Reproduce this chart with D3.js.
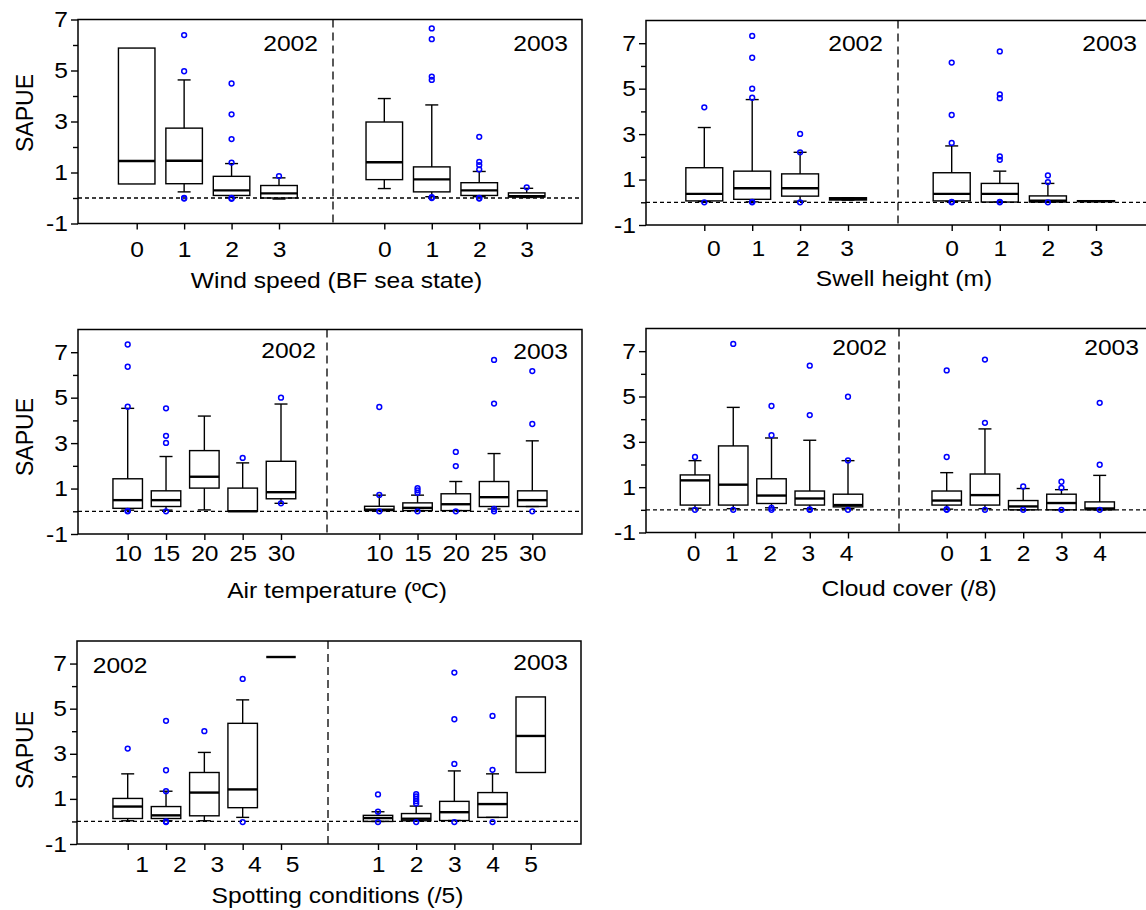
<!DOCTYPE html>
<html><head><meta charset="utf-8">
<script src="https://cdn.jsdelivr.net/npm/d3@7"></script>
<style>
body{margin:0;background:#fff;}
text{font-family:"Liberation Sans",Arial,sans-serif;fill:#000;}
</style></head>
<body><svg id="chart" width="1146" height="910"></svg>
<script>
// ---------- DATA: each box row = [lowerWhisker, q1, median, q3, upperWhisker] ----------
const WIND_CATS = ["0","1","2","3"];
const WIND_2002 = [[null,0.55,1.45,5.88,null],[0.24,0.56,1.46,2.74,4.63],[0.02,0.10,0.30,0.85,1.35],[-0.04,0.0,0.18,0.49,0.79]];
const WIND_2002_OUT = [[],[6.39,4.97,0,-0.02],[4.49,3.28,2.31,1.39,0,-0.03],[0.86]];
const WIND_2003 = [[0.37,0.72,1.40,2.98,3.90],[0.05,0.24,0.73,1.22,3.65],[0.05,0.10,0.30,0.60,1.04],[0.02,0.04,0.07,0.20,0.38]];
const WIND_2003_OUT = [[],[6.65,6.23,4.76,4.63,0,0.03],[2.40,1.42,1.29,1.12,0,-0.02],[0.42]];

const SWELL_CATS = ["0","1","2","3"];
const SWELL_2002 = [[0.03,0.06,0.37,1.52,3.29],[0.02,0.13,0.62,1.37,4.52],[0.05,0.27,0.62,1.25,2.20],[0.10,0.10,0.15,0.20,0.20]];
const SWELL_2002_OUT = [[4.18,0],[7.32,6.36,5.00,4.60,0,0.02],[3.01,2.20,0],[]];
const SWELL_2003 = [[0.03,0.06,0.37,1.30,2.48],[0.01,0.01,0.37,0.83,1.37],[0.01,0.01,0.07,0.28,0.83],[0.03,0.03,0.05,0.07,0.07]];
const SWELL_2003_OUT = [[6.15,3.84,2.61,0,0.02],[6.64,4.75,4.58,2.02,1.87,0,0.02],[1.18,0.89,0],[]];

const AIR_CATS = ["10","15","20","25","30"];
const AIR_2002 = [[0.05,0.13,0.49,1.43,4.53],[0.05,0.21,0.49,0.90,2.41],[0.06,1.02,1.52,2.67,4.19],[0,0,0,1.02,2.13],[0.35,0.55,0.84,2.20,4.72]];
const AIR_2002_OUT = [[7.34,6.36,4.60,0,0.02],[4.53,3.32,3.01,0],[],[2.35],[5.00,0.35]];
const AIR_2003 = [[0.03,0.03,0.07,0.22,0.71],[0.03,0.03,0.15,0.37,0.71],[0.03,0.03,0.31,0.77,1.31],[0.10,0.21,0.62,1.31,2.54],[0.21,0.21,0.49,0.90,3.10]];
const AIR_2003_OUT = [[4.59,0.72,0],[1.02,0.92,0.81,0],[2.61,1.99,0],[6.66,4.74,0.10,0],[6.17,3.84,0]];

const CLOUD_CATS = ["0","1","2","3","4"];
const CLOUD_2002 = [[0.07,0.21,1.30,1.54,2.17],[0.05,0.21,1.11,2.82,4.52],[0.09,0.28,0.63,1.37,3.17],[0.05,0.21,0.50,0.83,3.07],[0.05,0.13,0.21,0.69,2.17]];
const CLOUD_2002_OUT = [[2.33,0],[7.32,0],[4.58,3.29,0.09,0],[6.36,4.18,0,0.02],[4.99,2.18,0]];
const CLOUD_2003 = [[0.03,0.21,0.41,0.83,1.64],[0.05,0.21,0.65,1.58,3.57],[0,0,0.15,0.41,0.94],[0,0,0.30,0.69,0.89],[0,0,0.06,0.35,1.52]];
const CLOUD_2003_OUT = [[6.15,2.33,0.03,0],[6.63,3.84,0],[1.03,0],[1.24,0.97,0],[4.72,1.99,0]];

const SPOT_CATS = ["1","2","3","4","5"];
const SPOT_2002 = [[0.03,0.13,0.66,1.02,2.11],[0.03,0.13,0.27,0.66,1.34],[0.03,0.25,1.28,2.17,3.06],[0.18,0.61,1.42,4.35,5.39],[null,7.29,7.29,7.29,null]];
const SPOT_2002_OUT = [[3.23],[4.46,2.27,1.34,0,-0.03],[4.00],[6.32,-0.03],[]];
const SPOT_2003 = [[0,0,0.15,0.27,0.43],[0.03,0.03,0.12,0.35,0.68],[0.04,0.04,0.41,0.89,2.24],[0.18,0.18,0.77,1.28,2.11],[null,2.17,3.79,5.52,null]];
const SPOT_2003_OUT = [[1.20,0.43,-0.03],[1.21,1.11,1.00,0.90,0.80,-0.03],[6.60,4.53,2.55,-0.03],[4.68,2.29,-0.03],[]];

const YEARS = ["2002","2003"];
const Y_TITLE = "SAPUE";
const Y_TICKS = [-1,0,1,2,3,4,5,6,7];

// ---------- LAYOUT ----------
const FS = 22, SX = 1.12;
const panels = [
  {cats:WIND_CATS, data:[WIND_2002,WIND_2003], out:[WIND_2002_OUT,WIND_2003_OUT], title:"Wind speed (BF sea state)",
   left:78, right:582, div:333, top:19.5, bottom:223.5, ymax:7,
   ticks:[[136.7,279],[384.3,526.7]], labels:[[136.7,279],[384.3,526.7]], lab:25.5, tit:56.7, titX:336.5,
   yl:[{x:318,y:50.7,a:"end"},{x:568,y:50.7,a:"end"}], ytitleY:113},
  {cats:SWELL_CATS, data:[SWELL_2002,SWELL_2003], out:[SWELL_2002_OUT,SWELL_2003_OUT], title:"Swell height (m)",
   left:646, right:1148, div:898, top:20.5, bottom:225, ymax:8,
   ticks:[[704.3,848],[951.7,1096]], labels:[[713.3,846.7],[951.7,1096]], lab:23.7, tit:53.3, titX:904,
   yl:[{x:883,y:50.7,a:"end"},{x:1137,y:50.7,a:"end"}]},
  {cats:AIR_CATS, data:[AIR_2002,AIR_2003], out:[AIR_2002_OUT,AIR_2003_OUT], title:"Air temperature (ºC)",
   left:78, right:582, div:327, top:329.5, bottom:534, ymax:8,
   ticks:[[127.7,281],[379.3,532.3]], labels:[[127.7,281],[379.3,532.3]], lab:19.3, tit:56, titX:337,
   yl:[{x:316,y:358.3,a:"end"},{x:568,y:359.3,a:"end"}], ytitleY:437},
  {cats:CLOUD_CATS, data:[CLOUD_2002,CLOUD_2003], out:[CLOUD_2002_OUT,CLOUD_2003_OUT], title:"Cloud cover (/8)",
   left:646, right:1148, div:899, top:328.5, bottom:532.5, ymax:8,
   ticks:[[695,848],[946.7,1099.7]], labels:[[693,846],[946.7,1099.7]], lab:21, tit:56, titX:909,
   yl:[{x:887,y:355,a:"end"},{x:1139,y:355,a:"end"}]},
  {cats:SPOT_CATS, data:[SPOT_2002,SPOT_2003], out:[SPOT_2002_OUT,SPOT_2003_OUT], title:"Spotting conditions (/5)",
   left:77, right:581, div:328, top:641, bottom:844, ymax:8,
   ticks:[[127.7,281],[378,530.7]], labels:[[141.7,292],[378,530.7]], lab:20.7, tit:51, titX:337.5,
   yl:[{x:92.7,y:673,a:"start"},{x:568,y:670,a:"end"}], ytitleY:750}
];

const svg = d3.select("#chart");
const stretched = (sel, x, y, txt, anchor, base) => sel.append("text")
  .attr("transform", `translate(${x},${y}) scale(${SX},1)`)
  .attr("text-anchor", anchor).attr("dominant-baseline", base || "auto")
  .attr("font-size", FS).text(txt);

panels.forEach(p => {
  const g = svg.append("g");
  const y = d3.scaleLinear().domain([-1, p.ymax]).range([p.bottom, p.top]);

  // y axis ticks
  const yAxis = d3.axisLeft(y).tickValues(Y_TICKS).tickSize(7).tickPadding(3)
      .tickFormat(d => (Math.abs(d) % 2 === 1) ? String(d) : "");
  const ya = g.append("g").attr("transform", `translate(${p.left},0)`).call(yAxis);
  ya.select(".domain").remove();
  ya.selectAll(".tick line").attr("stroke","#000").attr("stroke-width",1.4)
    .attr("x2", d => (Math.abs(d)%2===1) ? -7 : -5);
  ya.selectAll(".tick text").attr("font-size",FS).attr("font-family","Liberation Sans, Arial, sans-serif")
    .attr("fill","#000").attr("x", -10/SX).attr("transform", `scale(${SX},1)`);

  // zero dashed line
  g.append("line").attr("x1", p.left).attr("x2", Math.min(p.right,1146)).attr("y1", y(0)).attr("y2", y(0))
    .attr("stroke","#000").attr("stroke-width",1.3).attr("stroke-dasharray","4,3");
  // divider
  g.append("line").attr("x1", p.div).attr("x2", p.div).attr("y1", p.top).attr("y2", p.bottom)
    .attr("stroke","#000").attr("stroke-width",1.3).attr("stroke-dasharray","8,5");

  [0,1].forEach(h => {
    const x = d3.scalePoint().domain(p.cats).range(p.ticks[h]);
    const xl = d3.scalePoint().domain(p.cats).range(p.labels[h]);
    const bw = x.step() * 0.77;
    const cap = 13;

    // tick marks
    const xa = g.append("g").attr("transform", `translate(0,${p.bottom})`)
      .call(d3.axisBottom(x).tickSize(6).tickFormat(""));
    xa.select(".domain").remove();
    xa.selectAll(".tick line").attr("stroke","#000").attr("stroke-width",1.4);
    // labels
    const xb = g.append("g").attr("transform", `translate(0,${p.bottom})`)
      .call(d3.axisBottom(xl).tickSize(0).tickPadding(0));
    xb.select(".domain").remove();
    xb.selectAll(".tick text").attr("font-size",FS).attr("font-family","Liberation Sans, Arial, sans-serif")
      .attr("fill","#000").attr("dy", null).attr("y", p.lab).attr("dominant-baseline","central")
      .attr("transform", `scale(${SX},1)`);

    const bg = g.append("g");
    p.cats.forEach((c, i) => {
      const cx = x(c);
      const [lo, q1, md, q3, hi] = p.data[h][i];
      const ln = (x1,x2,y1,y2,w) => bg.append("line").attr("x1",x1).attr("x2",x2).attr("y1",y1).attr("y2",y2)
        .attr("stroke","#000").attr("stroke-width",w||1.4);
      if (hi !== null) { ln(cx,cx,y(q3),y(hi)); ln(cx-cap/2,cx+cap/2,y(hi),y(hi)); }
      if (lo !== null) { ln(cx,cx,y(q1),y(lo)); ln(cx-cap/2,cx+cap/2,y(lo),y(lo)); }
      bg.append("rect").attr("x",cx-bw/2).attr("width",bw).attr("y",y(q3)).attr("height",Math.max(0,y(q1)-y(q3)))
        .attr("fill","none").attr("stroke","#000").attr("stroke-width",1.4);
      ln(cx-bw/2,cx+bw/2,y(md),y(md),2.4);
      p.out[h][i].forEach(v => {
        bg.append("circle").attr("cx",cx).attr("cy",y(v)).attr("r",2.4)
          .attr("fill","none").attr("stroke","#0000ff").attr("stroke-width",1.5);
      });
    });

    // year label
    const yl = p.yl[h];
    stretched(g, yl.x, yl.y, YEARS[h], yl.a);
  });

  // frame
  g.append("rect").attr("x", p.left).attr("y", p.top).attr("width", p.right - p.left).attr("height", p.bottom - p.top)
    .attr("fill","none").attr("stroke","#000").attr("stroke-width",1.5);

  // x title
  stretched(g, p.titX, p.bottom + p.tit, p.title, "middle", "central");

  // y title
  if (p.ytitleY !== undefined) {
    g.append("text").attr("transform", `translate(25,${p.ytitleY}) rotate(-90) scale(1,1.06)`).attr("text-anchor","middle")
      .attr("dominant-baseline","central").attr("font-size", 23).text(Y_TITLE);
  }
});
</script>
</body></html>
